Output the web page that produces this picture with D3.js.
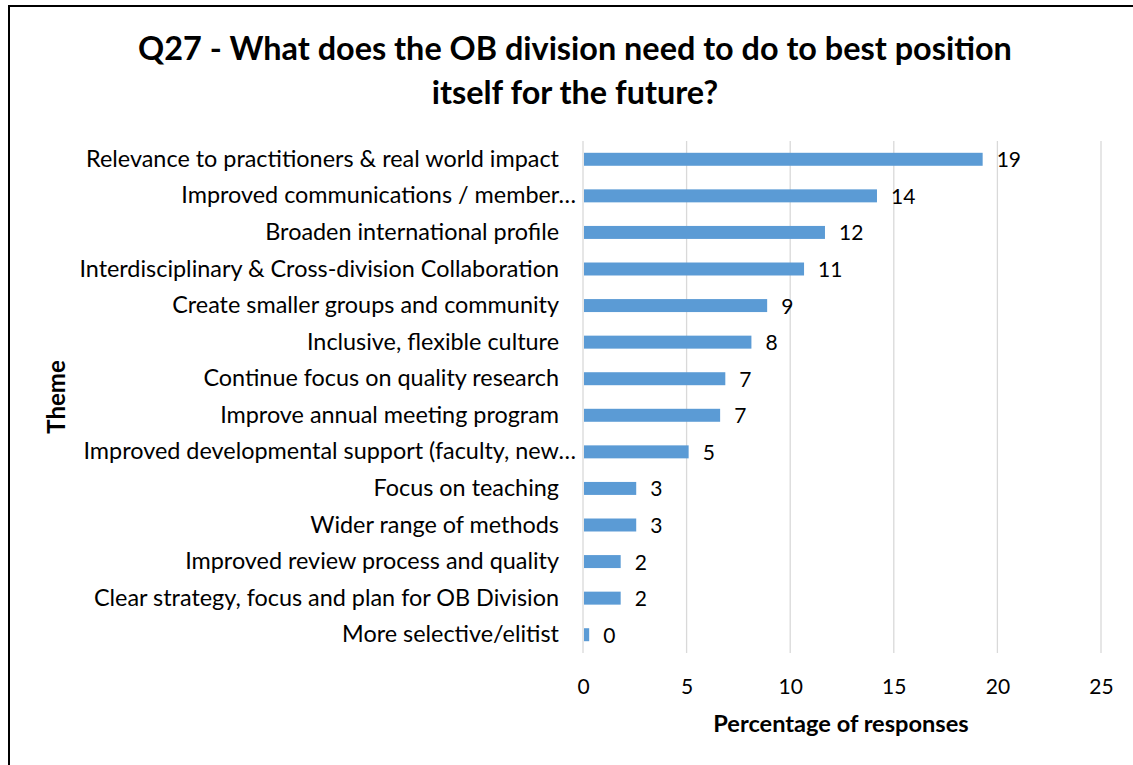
<!DOCTYPE html>
<html>
<head>
<meta charset="utf-8">
<script src="https://cdn.jsdelivr.net/npm/d3@7"></script>
<style>
  html, body { margin: 0; padding: 0; background: #fff; }
  svg { display: block; font-family: Lato, "Open Sans", sans-serif; }
</style>
</head>
<body>
<svg id="chart" width="1133" height="765"></svg>
<script>
// Themes, top to bottom
const themes = [
  "Relevance to practitioners & real world impact",
  "Improved communications / member\u2026",
  "Broaden international profile",
  "Interdisciplinary & Cross-division Collaboration",
  "Create smaller groups and community",
  "Inclusive, flexible culture",
  "Continue focus on quality research",
  "Improve annual meeting program",
  "Improved developmental support (faculty, new\u2026",
  "Focus on teaching",
  "Wider range of methods",
  "Improved review process and quality",
  "Clear strategy, focus and plan for OB Division",
  "More selective/elitist"
];
// Percentage of responses per theme
const percentages = [19.24, 14.14, 11.63, 10.62, 8.84, 8.08, 6.82, 6.57, 5.05, 2.52, 2.52, 1.77, 1.77, 0.25];
const xTicks = [0, 5, 10, 15, 20, 25];
const titleLines = [
  "Q27 - What does the OB division need to do to best position",
  "itself for the future?"
];
const xTitle = "Percentage of responses";
const yTitle = "Theme";

const svg = d3.select("#chart");
const W = 1133, H = 765;

// Chart frame
svg.append("rect")
  .attr("x", 9).attr("y", 6)
  .attr("width", W + 10).attr("height", H + 10)
  .attr("fill", "#fff").attr("stroke", "#000").attr("stroke-width", 2);

const plot = { left: 583, right: 1101, top: 141, bottom: 653 };

const x = d3.scaleLinear().domain([0, 25]).range([plot.left, plot.right]);
const y = d3.scaleBand().domain(themes).range([plot.top, plot.bottom]).paddingInner(0.645).paddingOuter(0.3225);

// Vertical gridlines
svg.append("g")
  .selectAll("line")
  .data(xTicks)
  .join("line")
  .attr("x1", d => x(d)).attr("x2", d => x(d))
  .attr("y1", plot.top).attr("y2", plot.bottom)
  .attr("stroke", "#d9d9d9").attr("stroke-width", 1.3);

// Bars
svg.append("g")
  .selectAll("rect")
  .data(percentages)
  .join("rect")
  .attr("x", x(0) + 1)
  .attr("y", (d, i) => y(themes[i]))
  .attr("width", d => x(d) - x(0))
  .attr("height", y.bandwidth())
  .attr("fill", "#5b9bd5");

// Value labels
const fmt = d3.format(".0f");
svg.append("g")
  .selectAll("text")
  .data(percentages)
  .join("text")
  .attr("x", d => x(d) + 15)
  .attr("y", (d, i) => y(themes[i]) + y.bandwidth() / 2)
  .attr("dy", "0.38em")
  .attr("font-size", 21)
  .attr("fill", "#000")
  .text(d => fmt(d));

// Category axis labels (truncated ones let the ellipsis hang past the edge)
const yAxis = d3.axisLeft(y).tickSize(0).tickPadding(24);
const gy = svg.append("g").attr("transform", `translate(${plot.left},0)`).call(yAxis);
gy.select(".domain").remove();
gy.selectAll("text")
  .attr("font-size", 23.4).attr("font-family", "Lato, sans-serif").attr("fill", "#000")
  .attr("dx", d => d.endsWith("\u2026") ? 17 : 0);

// Value axis labels
const xAxis = d3.axisBottom(x).tickValues(xTicks).tickSize(0).tickPadding(26);
const gx = svg.append("g").attr("transform", `translate(0,${plot.bottom})`).call(xAxis);
gx.select(".domain").remove();
gx.selectAll("text").attr("font-size", 21).attr("font-family", "Lato, sans-serif").attr("fill", "#000");

// Axis titles
svg.append("text")
  .attr("x", 841).attr("y", 732)
  .attr("text-anchor", "middle")
  .attr("font-size", 23.6).attr("font-weight", "bold")
  .text(xTitle);

svg.append("text")
  .attr("transform", `translate(65,397) rotate(-90)`)
  .attr("text-anchor", "middle")
  .attr("font-size", 24).attr("font-weight", "bold")
  .text(yTitle);

// Title
svg.append("g")
  .selectAll("text")
  .data(titleLines)
  .join("text")
  .attr("x", 575)
  .attr("y", (d, i) => 60 + i * 44)
  .attr("text-anchor", "middle")
  .attr("font-size", 32.4).attr("font-weight", "bold")
  .text(d => d);
</script>
</body>
</html>
